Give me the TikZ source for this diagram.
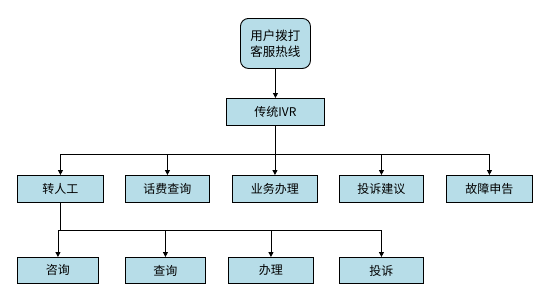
\documentclass[tikz,border=0pt]{standalone}
\usepackage{fontspec}
\newfontfamily\cjk{Noto Sans CJK SC}
\usetikzlibrary{arrows.meta,positioning}
\definecolor{boxfill}{RGB}{183,221,232}
\tikzset{
  box/.style={draw=black, line width=0.9pt, fill=boxfill, font=\cjk\fontsize{12}{14}\selectfont, inner sep=0pt, anchor=north west},
  conn/.style={draw=black, line width=0.8pt},
  arr/.style={conn, -{Triangle[width=5pt,length=5pt]}}
}
\begin{document}
\begin{tikzpicture}[x=1pt,y=-1pt]
\useasboundingbox (0,0) rectangle (540,298);
% top
\node[box, rounded corners=8pt, minimum width=70pt, minimum height=50pt, align=center, font=\cjk\fontsize{12.5}{16}\selectfont] (start) at (240,18) {用户拨打\\客服热线};
\node[box, minimum width=98pt, minimum height=27pt] (ivr) at (226,98) {传统IVR};
% row 1
\node[box, minimum width=86pt, minimum height=27pt] (r1) at (17,175) {转人工};
\node[box, minimum width=84pt, minimum height=27pt] (r2) at (125,175) {话费查询};
\node[box, minimum width=85pt, minimum height=27pt] (r3) at (232,175) {业务办理};
\node[box, minimum width=84pt, minimum height=27pt] (r4) at (339,175) {投诉建议};
\node[box, minimum width=86pt, minimum height=27pt] (r5) at (446,175) {故障申告};
% row 2
\node[box, minimum width=81pt, minimum height=26pt] (s1) at (17,257) {咨询};
\node[box, minimum width=80pt, minimum height=26pt] (s2) at (125,257) {查询};
\node[box, minimum width=85pt, minimum height=26pt] (s3) at (228,257) {办理};
\node[box, minimum width=84pt, minimum height=26pt] (s4) at (339,257) {投诉};
% connectors
\draw[arr] (start.south) -- (ivr.north);
\coordinate (b1) at (275,154);
\draw[conn] (ivr.south -| b1) -- (b1);
\draw[conn] (r1.north |- b1) -- (r5.north |- b1);
\foreach \n in {r1,r2,r3,r4,r5} \draw[arr] (\n.north |- b1) -- (\n.north);
\coordinate (b2) at (60,230);
\draw[conn] (r1.south) -- (r1.south |- b2);
\draw[conn] (s1.north |- b2) -- (s4.north |- b2);
\foreach \n in {s1,s2,s3,s4} \draw[arr] (\n.north |- b2) -- (\n.north);
\end{tikzpicture}
\end{document}
